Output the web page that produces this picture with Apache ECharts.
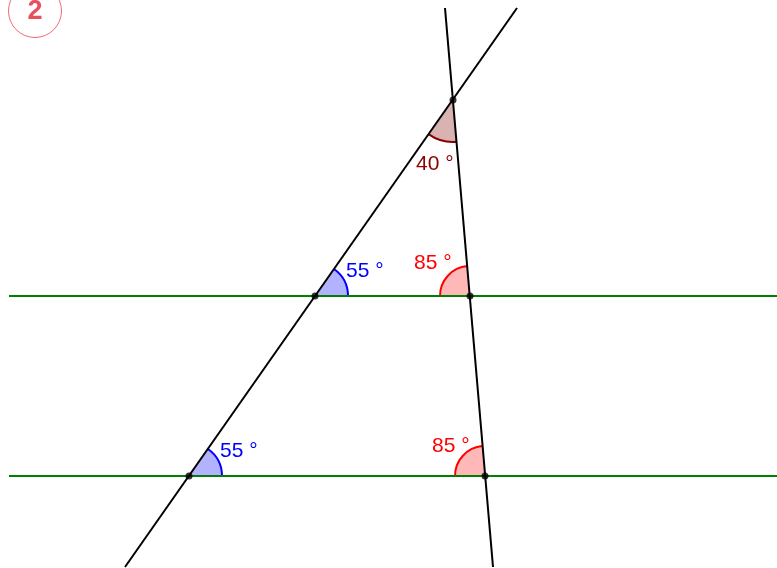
<!DOCTYPE html>
<html>
<head>
<meta charset="utf-8">
<script src="https://cdn.jsdelivr.net/npm/echarts@6/dist/echarts.min.js"></script>
<style>html,body{margin:0;padding:0;background:#fff}#c{width:777px;height:568px}</style>
</head>
<body>
<div id="c"></div>
<script>
// Geometry in picture units (y grows downward)
const lineA = [[517, 8], [125, 567]];     // transversal making 55°
const lineB = [[445, 8], [493, 567]];     // transversal making 85°
const parallel1 = [[9, 296], [777, 296]];
const parallel2 = [[9, 476], [777, 476]];
const intersections = [[453, 100], [315, 296], [470, 296], [189, 476], [485, 476]];
// angle marks: vertex, ray point 1, ray point 2
const angleVertex = [[453, 100], [315, 296], [470, 296], [189, 476], [485, 476]];
const angleRay1 = [[493, 567], [777, 296], [445, 8], [777, 476], [445, 8]];
const angleRay2 = [[125, 567], [517, 8], [9, 296], [517, 8], [9, 476]];
const angleLabels = ['40 °', '55 °', '85 °', '55 °', '85 °'];
const labelAnchor = [[416, 164], [346, 271], [414, 263], [220, 451], [432, 446]];
const angleKind = ['dark', 'blue', 'red', 'blue', 'red'];

const styles = {
  dark: { fill: 'rgba(128,0,0,0.3)', stroke: '#8b0000', r: 42 },
  blue: { fill: 'rgba(0,0,255,0.3)', stroke: '#0000ff', r: 33 },
  red:  { fill: 'rgba(255,0,0,0.28)', stroke: '#ff0000', r: 30 }
};

const angleData = angleVertex.map((v, i) => [v[0], v[1], angleRay1[i][0], angleRay1[i][1], angleRay2[i][0], angleRay2[i][1], i]);

const chart = echarts.init(document.getElementById('c'), null, { renderer: 'canvas' });
const lineSeries = (d, color) => ({
  type: 'line', data: d, showSymbol: false, silent: true, z: 2,
  lineStyle: { color: color, width: 2 }, animation: false
});
chart.setOption({
  animation: false,
  grid: { left: 0, right: 0, top: 0, bottom: 0 },
  xAxis: { type: 'value', min: 0, max: 777, show: false },
  yAxis: { type: 'value', min: 0, max: 568, inverse: true, show: false },
  series: [
    {
      type: 'custom', z: 1, data: angleData,
      renderItem: function (params, api) {
        const i = api.value(6);
        const st = styles[angleKind[i]];
        const c = api.coord([api.value(0), api.value(1)]);
        const p1 = api.coord([api.value(2), api.value(3)]);
        const p2 = api.coord([api.value(4), api.value(5)]);
        let a1 = Math.atan2(p1[1] - c[1], p1[0] - c[0]);
        let a2 = Math.atan2(p2[1] - c[1], p2[0] - c[0]);
        let d = a2 - a1;
        while (d > Math.PI) d -= 2 * Math.PI;
        while (d < -Math.PI) d += 2 * Math.PI;
        if (d < 0) { a1 = a2; d = -d; }
        const r = api.size([st.r, 0])[0];
        const lp = api.coord(labelAnchor[i]);
        return {
          type: 'group',
          children: [
            { type: 'sector', shape: { cx: c[0], cy: c[1], r0: 0, r: r, startAngle: a1, endAngle: a1 + d, clockwise: true },
              style: { fill: st.fill, stroke: null } },
            { type: 'arc', shape: { cx: c[0], cy: c[1], r: r, startAngle: a1, endAngle: a1 + d, clockwise: true },
              style: { fill: null, stroke: st.stroke, lineWidth: 2 } },
            { type: 'text', x: lp[0], y: lp[1],
              style: { text: angleLabels[i], fill: st.stroke, font: '21px "Liberation Sans", Arial, sans-serif', align: 'left', verticalAlign: 'middle' } }
          ]
        };
      }
    },
    lineSeries(parallel1, '#008000'),
    lineSeries(parallel2, '#008000'),
    lineSeries(lineA, '#000000'),
    lineSeries(lineB, '#000000'),
    {
      type: 'scatter', data: intersections, symbolSize: 7, z: 3, silent: true,
      itemStyle: { color: '#000' }
    }
  ],
  graphic: [
    { type: 'circle', shape: { cx: 35, cy: 11, r: 26.5 }, style: { fill: 'none', stroke: '#ee6a76', lineWidth: 1 } },
    { type: 'text', x: 35, y: 12, style: { text: '2', fill: '#e8505e', font: 'bold 27px "Liberation Sans", Arial, sans-serif', align: 'center', verticalAlign: 'middle' } }
  ]
});
</script>
</body>
</html>
